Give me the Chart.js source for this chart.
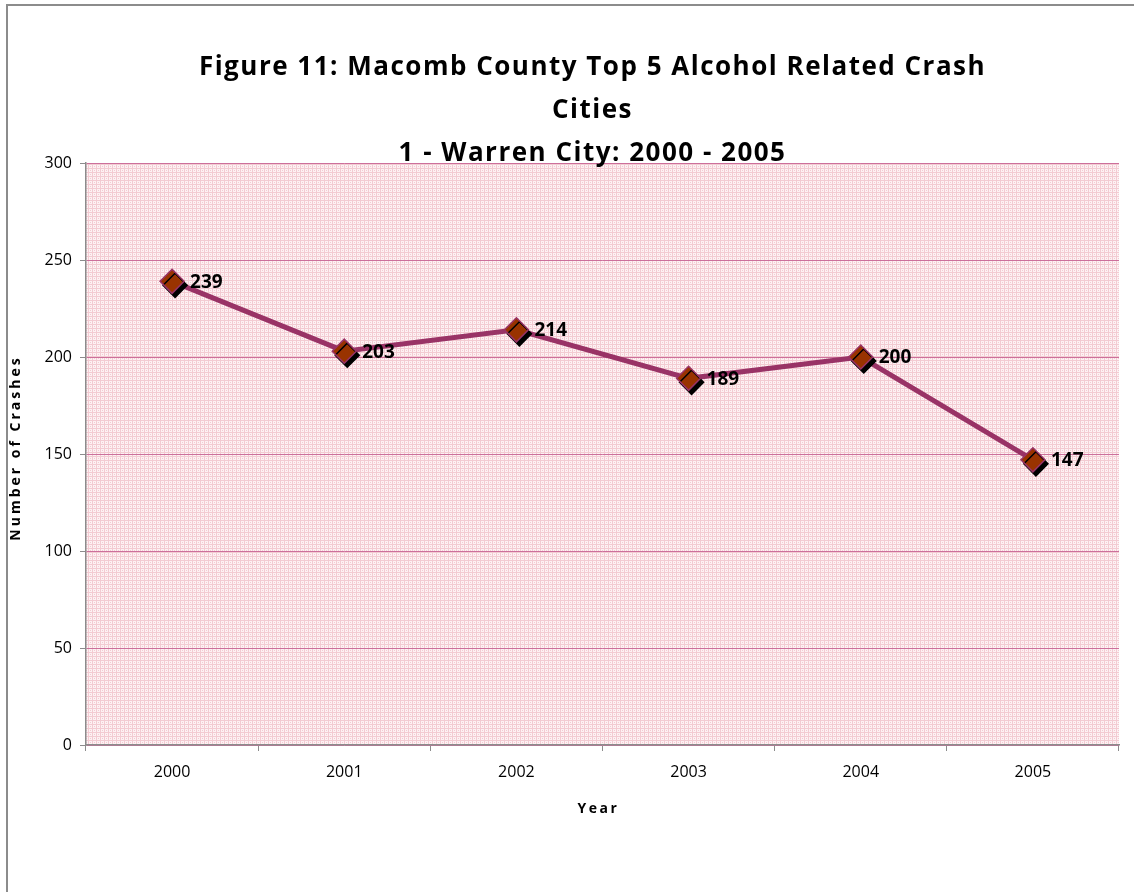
<!DOCTYPE html>
<html>
<head>
<meta charset="utf-8">
<script src="https://cdn.jsdelivr.net/npm/chart.js@4.4.1/dist/chart.umd.min.js"></script>
<style>
  html, body { margin: 0; padding: 0; background: #fff; overflow: hidden; }
  #frame { position: absolute; left: 6px; top: 4px; width: 1300px; height: 1000px; border: 2px solid #8c8c8c; }
  #wrap { position: absolute; left: 0; top: 0; width: 1134px; height: 892px; }
</style>
</head>
<body>
<div id="frame"></div>
<div id="wrap"><canvas id="crashChart"></canvas></div>
<script>
const years = ['2000', '2001', '2002', '2003', '2004', '2005'];
const crashes = [239, 203, 214, 189, 200, 147];
const yTicks = [0, 50, 100, 150, 200, 250, 300];
const titleLines = [
    'Figure 11: Macomb County Top 5 Alcohol Related Crash',
    'Cities',
    '1 - Warren City: 2000 - 2005'
];
const yTitle = 'Number of Crashes';
const xTitle = 'Year';

const FONT = '"Open Sans", "DejaVu Sans", sans-serif';

// light pink dotted fill like the excel plot area
function makePattern() {
    const c = document.createElement('canvas');
    c.width = 4; c.height = 4;
    const g = c.getContext('2d');
    g.fillStyle = '#fdf1f3';
    g.fillRect(0, 0, 4, 4);
    g.fillStyle = '#f3cbd2';
    g.fillRect(0, 0, 1, 4);
    g.fillRect(0, 0, 4, 1);
    g.fillRect(2, 2, 1, 1);
    return g.createPattern(c, 'repeat');
}

const plotBg = {
    id: 'plotBg',
    beforeDraw(chart) {
        const { ctx, chartArea } = chart;
        ctx.save();
        ctx.fillStyle = makePattern();
        ctx.fillRect(chartArea.left, chartArea.top, chartArea.right - chartArea.left, chartArea.bottom - chartArea.top);
        ctx.restore();
    }
};

// black drop shadow under the diamond markers
const markerShadow = {
    id: 'markerShadow',
    beforeDatasetDraw(chart, args) {
        if (args.index !== 0) return;
        const ctx = chart.ctx;
        ctx.save();
        ctx.shadowColor = '#000';
        ctx.shadowOffsetX = 3;
        ctx.shadowOffsetY = 4;
        ctx.shadowBlur = 0;
    },
    afterDatasetDraw(chart, args) {
        if (args.index !== 0) return;
        chart.ctx.restore();
    }
};

const valueLabels = {
    id: 'valueLabels',
    afterDatasetsDraw(chart) {
        const ctx = chart.ctx;
        const meta = chart.getDatasetMeta(0);
        ctx.save();
        ctx.font = 'bold 19px ' + FONT;
        ctx.fillStyle = '#000';
        ctx.textAlign = 'left';
        ctx.textBaseline = 'middle';
        meta.data.forEach((pt, i) => {
            ctx.fillText(String(crashes[i]), pt.x + 18, pt.y + 1);
        });
        ctx.restore();
    }
};

// titles drawn with the loose letter spacing of the original
const spacedText = {
    id: 'spacedText',
    afterDraw(chart) {
        const { ctx, chartArea } = chart;
        const cx = (chartArea.left + chartArea.right) / 2 - 10;
        ctx.save();
        ctx.fillStyle = '#000';
        ctx.textAlign = 'center';
        ctx.textBaseline = 'alphabetic';
        ctx.font = 'bold 26px ' + FONT;
        ctx.letterSpacing = '1.5px';
        const base = [chartArea.top - 88, chartArea.top - 45, chartArea.top - 2];
        titleLines.forEach((t, i) => ctx.fillText(t, cx, base[i]));

        ctx.font = 'bold 14px ' + FONT;
        ctx.letterSpacing = '2.5px';
        ctx.textBaseline = 'middle';
        ctx.fillText(xTitle, cx + 6, chartArea.bottom + 64);

        ctx.letterSpacing = '3px';
        ctx.translate(16, (chartArea.top + chartArea.bottom) / 2 - 6);
        ctx.rotate(-Math.PI / 2);
        ctx.fillText(yTitle, 0, 0);
        ctx.restore();
    }
};

new Chart(document.getElementById('crashChart'), {
    type: 'line',
    data: {
        labels: years,
        datasets: [{
            label: 'markers',
            data: crashes,
            showLine: false,
            pointStyle: 'rectRot',
            pointRadius: 12,
            pointHoverRadius: 12,
            pointBackgroundColor: '#993300',
            pointBorderColor: '#993366',
            pointBorderWidth: 1.5
        }, {
            label: 'Warren City',
            data: crashes,
            borderColor: '#993366',
            borderWidth: 5,
            pointRadius: 0,
            tension: 0,
            fill: false
        }]
    },
    options: {
        responsive: true,
        maintainAspectRatio: false,
        animation: false,
        events: [],
        layout: { padding: { left: 30, right: 15, top: 163, bottom: 107 } },
        plugins: {
            legend: { display: false },
            title: { display: false },
            tooltip: { enabled: false }
        },
        scales: {
            x: {
                offset: true,
                afterFit(scale) { scale.height = 40; },
                grid: {
                    offset: true,
                    drawOnChartArea: false,
                    drawTicks: true,
                    tickLength: 6,
                    tickColor: '#8c8c8c'
                },
                border: { color: '#8c8c8c', width: 1.5 },
                ticks: {
                    padding: 12,
                    color: '#000',
                    font: { family: FONT, size: 16 }
                }
            },
            y: {
                min: 0,
                max: 300,
                afterFit(scale) { scale.width = 56; },
                afterBuildTicks(scale) { scale.ticks = yTicks.map(v => ({ value: v })); },
                grid: {
                    color: '#cc6f9b',
                    tickLength: 6,
                    tickColor: '#8c8c8c'
                },
                border: { color: '#8c8c8c', width: 1.5 },
                ticks: {
                    padding: 8,
                    color: '#000',
                    font: { family: FONT, size: 16 }
                }
            }
        }
    },
    plugins: [plotBg, markerShadow, valueLabels, spacedText]
});
</script>
</body>
</html>
